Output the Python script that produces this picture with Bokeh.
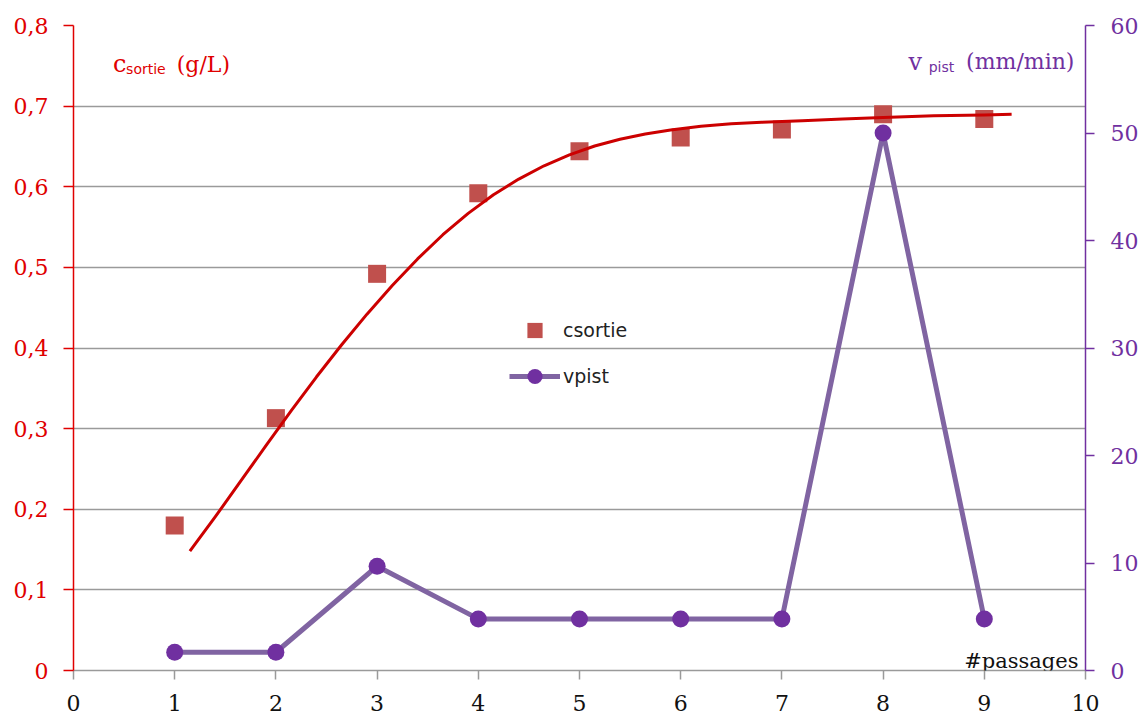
from bokeh.plotting import figure
from bokeh.models import (Range1d, LinearAxis, FixedTicker, CustomJSTickFormatter,
                          Label, Legend, LegendItem)
from bokeh.embed import file_html
from bokeh.resources import INLINE

# ---- data ----
passages = [1, 2, 3, 4, 5, 6, 7, 8, 9]
csortie = [0.180, 0.313, 0.492, 0.592, 0.644, 0.661, 0.671, 0.690, 0.684]
vpist = [1.7, 1.7, 9.7, 4.8, 4.8, 4.8, 4.8, 50.0, 4.8]

# trend curve
fit_x = [1.15, 1.40, 1.65, 1.90, 2.15, 2.40, 2.65, 2.90, 3.15, 3.40, 3.65, 3.90,
         4.15, 4.40, 4.65, 4.90, 5.15, 5.40, 5.65, 5.90, 6.20, 6.50, 6.80, 7.20,
         7.60, 8.00, 8.50, 9.00, 9.27]
fit_y = [0.148, 0.1905, 0.2345, 0.2785, 0.322, 0.364, 0.404, 0.442, 0.4775, 0.5105,
         0.5405, 0.567, 0.590, 0.6095, 0.626, 0.6395, 0.6505, 0.659, 0.6655, 0.6705,
         0.675, 0.678, 0.680, 0.682, 0.684, 0.686, 0.688, 0.689, 0.690]

x_ticks = [0, 1, 2, 3, 4, 5, 6, 7, 8, 9, 10]
left_ticks = [0, 0.1, 0.2, 0.3, 0.4, 0.5, 0.6, 0.7, 0.8]
right_ticks = [0, 10, 20, 30, 40, 50, 60]

RED = "#E00000"
PURPLE = "#7030A0"
SERIF = "DejaVu Serif"

p = figure(width=1148, height=720, x_range=Range1d(0, 10), y_range=Range1d(0, 0.8),
           output_backend="svg", toolbar_location=None,
           min_border_left=73, min_border_right=63, min_border_top=25, min_border_bottom=50)
p.outline_line_color = None
p.background_fill_color = "white"
p.border_fill_color = "white"

# grid
p.xgrid.visible = False
p.ygrid.ticker = FixedTicker(ticks=left_ticks)
p.ygrid.grid_line_color = "#9a9a9a"
p.ygrid.grid_line_width = 1.5

# x axis
xa = p.xaxis[0]
xa.ticker = FixedTicker(ticks=x_ticks)
xa.axis_line_color = "#9a9a9a"
xa.axis_line_width = 1.5
xa.major_tick_line_color = "#9a9a9a"
xa.major_tick_line_width = 1.5
xa.major_tick_out = 9
xa.major_tick_in = 0
xa.minor_tick_line_color = None
xa.major_label_text_font = SERIF
xa.major_label_text_font_size = "22px"
xa.major_label_text_color = "#111111"
xa.major_label_standoff = 15

# left axis
ya = p.yaxis[0]
ya.ticker = FixedTicker(ticks=left_ticks)
ya.formatter = CustomJSTickFormatter(code="return tick == 0 ? '0' : tick.toFixed(1).replace('.', ',');")
ya.axis_line_color = RED
ya.axis_line_width = 1.5
ya.major_tick_line_color = RED
ya.major_tick_line_width = 1.5
ya.major_tick_out = 10
ya.major_tick_in = 0
ya.minor_tick_line_color = None
ya.major_label_text_font = SERIF
ya.major_label_text_font_size = "22px"
ya.major_label_text_color = RED
ya.major_label_standoff = 15

# right axis
p.extra_y_ranges = {"right": Range1d(0, 60)}
ra = LinearAxis(y_range_name="right")
ra.ticker = FixedTicker(ticks=right_ticks)
ra.axis_line_color = PURPLE
ra.axis_line_width = 1.5
ra.major_tick_line_color = PURPLE
ra.major_tick_line_width = 1.5
ra.major_tick_out = 9
ra.major_tick_in = 0
ra.minor_tick_line_color = None
ra.major_label_text_font = SERIF
ra.major_label_text_font_size = "22px"
ra.major_label_text_color = PURPLE
ra.major_label_standoff = 16
p.add_layout(ra, "right")

# series
sq = p.scatter(passages, csortie, marker="square", size=18, fill_color="#C0504D",
               line_color=None)
p.line(fit_x, fit_y, line_color="#CC0000", line_width=3, line_join="round")
vl = p.line(passages, vpist, y_range_name="right", line_color="#8064A2", line_width=5)
vc = p.scatter(passages, vpist, y_range_name="right", marker="circle", size=17,
               fill_color=PURPLE, line_color=None)

legend = Legend(items=[LegendItem(label="csortie", renderers=[sq]),
                       LegendItem(label="vpist", renderers=[vl, vc])],
                location=(436, 275), glyph_width=51, glyph_height=38,
                label_standoff=3, spacing=8, padding=0, margin=0,
                border_line_color=None, background_fill_alpha=0,
                label_text_font="DejaVu Sans", label_text_font_size="19px",
                label_text_color="#222222")
p.add_layout(legend)

# in-plot axis titles
p.add_layout(Label(x=0.39, y=0.752, text="c", text_font=SERIF, text_font_size="24px",
                   text_color=RED, text_baseline="alphabetic"))
p.add_layout(Label(x=0.52, y=0.746, text="sortie", text_font="DejaVu Sans",
                   text_font_size="14px", text_color=RED, text_baseline="alphabetic"))
p.add_layout(Label(x=1.02, y=0.752, text="(g/L)", text_font=SERIF, text_font_size="22px",
                   text_color=RED, text_baseline="alphabetic"))

p.add_layout(Label(x=8.25, y=0.755, text="v", text_font=SERIF, text_font_size="24px",
                   text_color=PURPLE, text_baseline="alphabetic"))
p.add_layout(Label(x=8.45, y=0.748, text="pist", text_font="DejaVu Sans",
                   text_font_size="14px", text_color=PURPLE, text_baseline="alphabetic"))
p.add_layout(Label(x=8.82, y=0.755, text="(mm/min)", text_font=SERIF, text_font_size="22px",
                   text_color=PURPLE, text_baseline="alphabetic"))

p.add_layout(Label(x=9.93, y=0.0124, text="#passages", text_font=SERIF,
                   text_font_size="21px", text_color="#111111", text_align="right",
                   text_baseline="alphabetic"))

open("out.html", "w").write(file_html(p, INLINE))
